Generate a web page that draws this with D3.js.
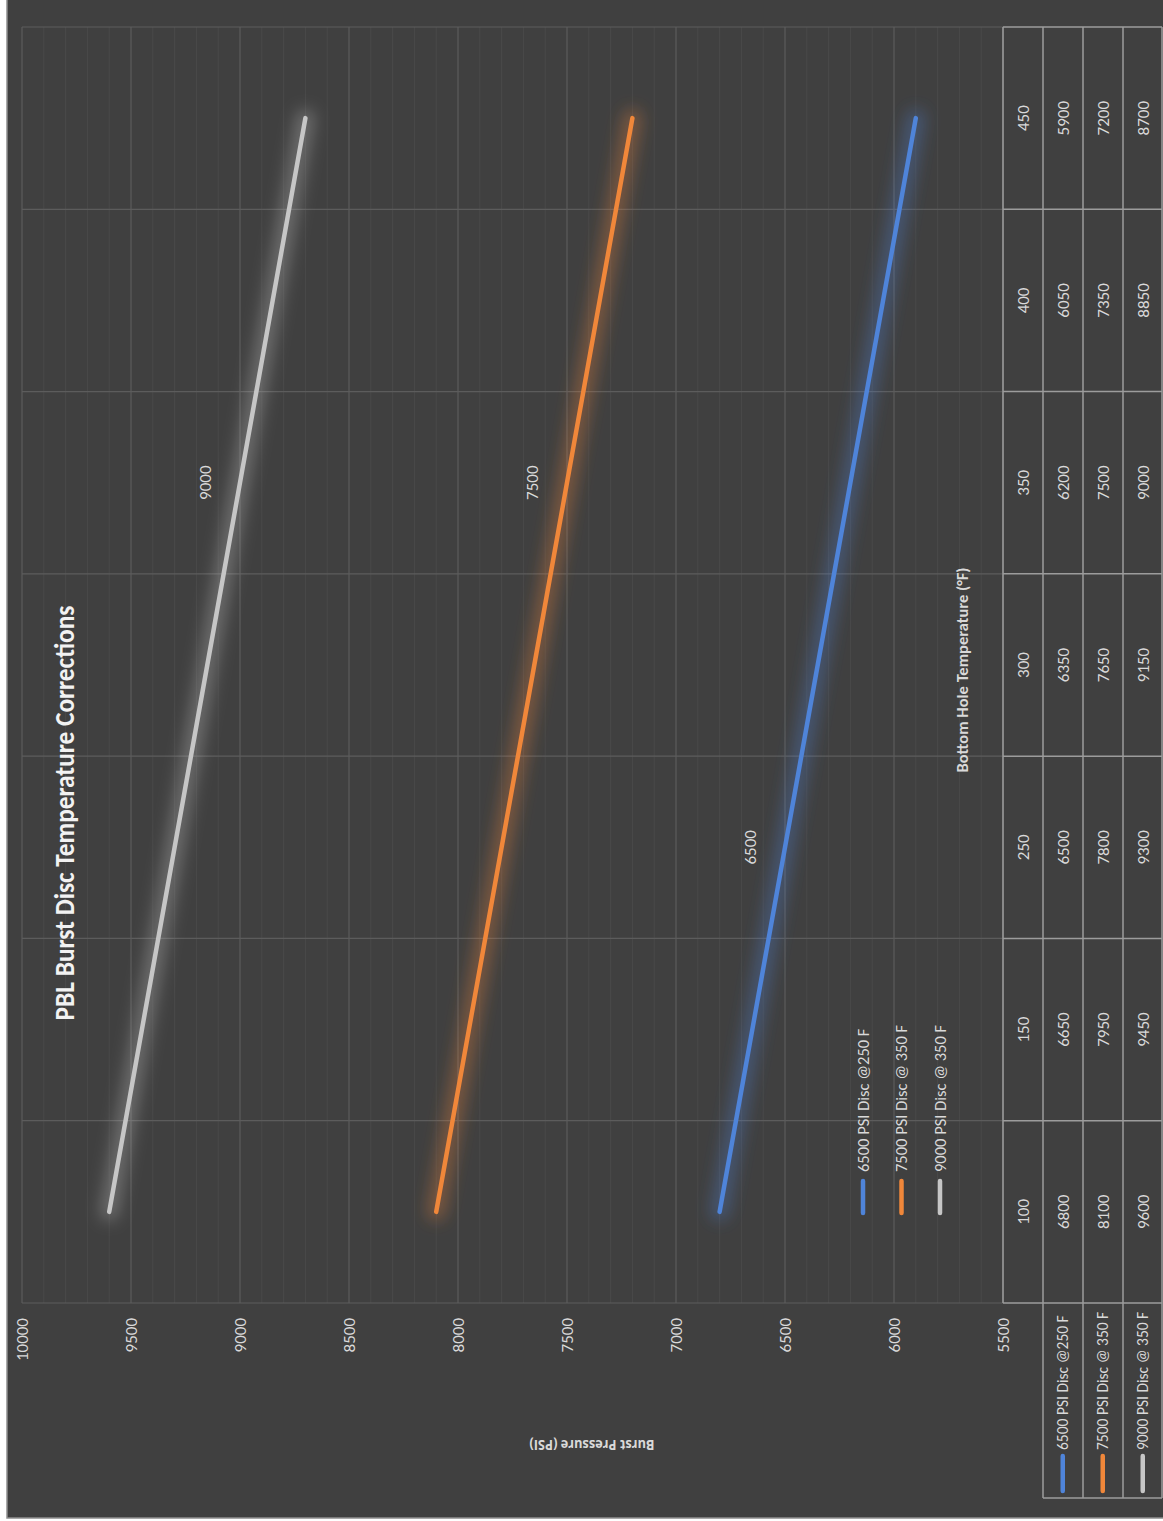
<!DOCTYPE html>
<html>
<head>
<meta charset="utf-8">
<script src="https://cdn.jsdelivr.net/npm/d3@7"></script>
<style>
  body { margin: 0; background: #ffffff; }
  svg { display: block; }
</style>
</head>
<body>
<div id="chart"></div>
<script>
/* global d3 */

// data
const temps = [100, 150, 250, 300, 350, 400, 450];
const seriesNames = ['6500 PSI Disc @250 F', '7500 PSI Disc @ 350 F', '9000 PSI Disc @ 350 F'];
const disc6500 = [6800, 6650, 6500, 6350, 6200, 6050, 5900];
const disc7500 = [8100, 7950, 7800, 7650, 7500, 7350, 7200];
const disc9000 = [9600, 9450, 9300, 9150, 9000, 8850, 8700];
const seriesColors = ['#4f84d9', '#f0873a', '#c6c6c6'];
const valueTicks = [5500, 6000, 6500, 7000, 7500, 8000, 8500, 9000, 9500, 10000];
const labelIndex = [2, 4, 4];
const labelText = ['6500', '7500', '9000'];

const allSeries = [disc6500, disc7500, disc9000];

const makeChart = () => {
  const width = 1163;
  const height = 1521;
  // the chart is drawn in its own (unrotated) frame, then turned a quarter
  const W0 = 1521;
  const font = "'Carlito', 'Liberation Sans Narrow', 'DejaVu Sans Condensed', sans-serif";
  const textColor = '#d9d9d9';

  const svg = d3.select('#chart')
    .append('svg')
    .attr('width', width)
    .attr('height', height);

  const defs = svg.append('defs');
  defs.append('filter')
    .attr('id', 'glow')
    .attr('x', '-20%')
    .attr('y', '-20%')
    .attr('width', '140%')
    .attr('height', '140%')
    .append('feGaussianBlur')
    .attr('stdDeviation', 8);

  const root = svg.append('g')
    .attr('transform', `translate(0 ${W0}) rotate(-90)`);

  // background + border
  root.append('rect')
    .attr('x', 3)
    .attr('y', 7)
    .attr('width', W0 - 3)
    .attr('height', 1163 - 7)
    .attr('fill', '#404040');
  root.append('path')
    .attr('d', `M3,1163 L3,7 L${W0},7`)
    .attr('fill', 'none')
    .attr('stroke', '#8e8e8e')
    .attr('stroke-width', 1.5);

  const plotLeft = 218;
  const plotRight = 1494;
  const plotTop = 22;
  const plotBottom = 1003;

  const x = d3.scaleBand()
    .domain(temps)
    .range([plotLeft, plotRight]);

  const y = d3.scaleLinear()
    .domain([5500, 10000])
    .range([plotBottom, plotTop]);

  // minor gridlines every 100
  const minor = d3.range(5500, 10001, 100).filter((v) => v % 500 !== 0);
  root.append('g')
    .selectAll('line')
    .data(minor)
    .enter()
    .append('line')
    .attr('x1', plotLeft)
    .attr('x2', plotRight)
    .attr('y1', (d) => y(d))
    .attr('y2', (d) => y(d))
    .attr('stroke', '#494949')
    .attr('stroke-width', 1);

  // major gridlines
  root.append('g')
    .selectAll('line')
    .data(valueTicks)
    .enter()
    .append('line')
    .attr('x1', plotLeft)
    .attr('x2', plotRight)
    .attr('y1', (d) => y(d))
    .attr('y2', (d) => y(d))
    .attr('stroke', '#5c5c5c')
    .attr('stroke-width', 1.2);

  const bounds = temps.map((t) => x(t)).concat([plotRight]);
  root.append('g')
    .selectAll('line')
    .data(bounds)
    .enter()
    .append('line')
    .attr('x1', (d) => d)
    .attr('x2', (d) => d)
    .attr('y1', plotTop)
    .attr('y2', plotBottom)
    .attr('stroke', '#5c5c5c')
    .attr('stroke-width', 1.2);

  // value axis labels
  root.append('g')
    .selectAll('text')
    .data(valueTicks)
    .enter()
    .append('text')
    .attr('x', 203)
    .attr('y', (d) => y(d))
    .attr('dy', '0.35em')
    .attr('text-anchor', 'end')
    .style('font-family', font)
    .style('font-size', '17px')
    .attr('fill', textColor)
    .text((d) => d);

  // lines
  const line = d3.line()
    .x((d, i) => x(temps[i]) + x.bandwidth() / 2)
    .y((d) => y(d));

  const lines = root.append('g');
  allSeries.forEach((s, k) => {
    lines.append('path')
      .attr('d', line(s))
      .attr('fill', 'none')
      .attr('stroke', seriesColors[k])
      .attr('stroke-width', 18)
      .attr('stroke-opacity', 0.35)
      .attr('stroke-linecap', 'round')
      .attr('filter', 'url(#glow)');
  });
  allSeries.forEach((s, k) => {
    lines.append('path')
      .attr('d', line(s))
      .attr('fill', 'none')
      .attr('stroke', seriesColors[k])
      .attr('stroke-width', 4.5)
      .attr('stroke-linecap', 'round');
  });

  // data labels
  root.append('g')
    .selectAll('text')
    .data(labelText)
    .enter()
    .append('text')
    .attr('x', (d, k) => x(temps[labelIndex[k]]) + x.bandwidth() / 2)
    .attr('y', (d, k) => y(allSeries[k][labelIndex[k]]) - 35)
    .attr('dy', '0.35em')
    .attr('text-anchor', 'middle')
    .style('font-family', font)
    .style('font-size', '17px')
    .attr('fill', textColor)
    .text((d) => d);

  // title
  root.append('text')
    .attr('x', 708)
    .attr('y', 74)
    .attr('text-anchor', 'middle')
    .attr('textLength', 415)
    .attr('lengthAdjust', 'spacingAndGlyphs')
    .style('font-family', font)
    .style('font-size', '29px')
    .style('font-weight', 'bold')
    .attr('fill', '#f2f2f2')
    .text('PBL Burst Disc Temperature Corrections');

  // axis titles
  root.append('text')
    .attr('transform', `translate(76 592) rotate(-90)`)
    .attr('text-anchor', 'middle')
    .attr('dy', '0.35em')
    .attr('textLength', 125)
    .attr('lengthAdjust', 'spacingAndGlyphs')
    .style('font-family', "'Open Sans', 'DejaVu Sans', sans-serif")
    .style('font-size', '14px')
    .style('font-weight', 'bold')
    .attr('fill', textColor)
    .text('Burst Pressure (PSI)');

  root.append('text')
    .attr('x', (plotLeft + plotRight) / 2 - 5)
    .attr('y', 962)
    .attr('dy', '0.35em')
    .attr('text-anchor', 'middle')
    .attr('textLength', 205)
    .attr('lengthAdjust', 'spacingAndGlyphs')
    .style('font-family', font)
    .style('font-size', '16px')
    .style('font-weight', 'bold')
    .attr('fill', textColor)
    .text('Bottom Hole Temperature (°F)');

  // legend inside the plot
  const legend = root.append('g');
  seriesNames.forEach((name, k) => {
    const ly = 863 + k * 38.5;
    legend.append('line')
      .attr('x1', 308)
      .attr('x2', 340)
      .attr('y1', ly)
      .attr('y2', ly)
      .attr('stroke', seriesColors[k])
      .attr('stroke-width', 4.5)
      .attr('stroke-linecap', 'round');
    legend.append('text')
      .attr('x', 349)
      .attr('y', ly)
      .attr('dy', '0.35em')
      .style('font-family', font)
      .style('font-size', '16.5px')
      .attr('fill', textColor)
      .text(name);
  });

  // data table
  const table = root.append('g');
  const rowTop = [1003, 1043, 1083, 1123];
  const rowH = 39.5;
  const tableStroke = '#9c9c9c';

  table.append('line')
    .attr('x1', plotLeft)
    .attr('x2', plotRight)
    .attr('y1', rowTop[0])
    .attr('y2', rowTop[0])
    .attr('stroke', tableStroke)
    .attr('stroke-width', 1.5);
  [1043, 1083, 1123, 1162].forEach((ry) => {
    table.append('line')
      .attr('x1', 23)
      .attr('x2', plotRight)
      .attr('y1', ry)
      .attr('y2', ry)
      .attr('stroke', tableStroke)
      .attr('stroke-width', 1.5);
  });
  table.selectAll('.col')
    .data(bounds)
    .enter()
    .append('line')
    .attr('x1', (d) => d)
    .attr('x2', (d) => d)
    .attr('y1', 1003)
    .attr('y2', 1162)
    .attr('stroke', tableStroke)
    .attr('stroke-width', 1.5);
  table.append('line')
    .attr('x1', 23)
    .attr('x2', 23)
    .attr('y1', 1043)
    .attr('y2', 1162)
    .attr('stroke', tableStroke)
    .attr('stroke-width', 1.5);

  // header row
  table.selectAll('.head')
    .data(temps)
    .enter()
    .append('text')
    .attr('x', (d) => x(d) + x.bandwidth() / 2)
    .attr('y', rowTop[0] + rowH / 2)
    .attr('dy', '0.35em')
    .attr('text-anchor', 'middle')
    .style('font-family', font)
    .style('font-size', '17px')
    .attr('fill', textColor)
    .text((d) => d);

  // series rows
  allSeries.forEach((s, k) => {
    const cy = rowTop[k + 1] + rowH / 2;
    table.append('line')
      .attr('x1', 30)
      .attr('x2', 65)
      .attr('y1', cy)
      .attr('y2', cy)
      .attr('stroke', seriesColors[k])
      .attr('stroke-width', 4.5)
      .attr('stroke-linecap', 'round');
    table.append('text')
      .attr('x', 71)
      .attr('y', cy)
      .attr('dy', '0.35em')
      .style('font-family', font)
      .style('font-size', '15.5px')
      .attr('fill', textColor)
      .text(seriesNames[k]);
    table.selectAll(`.cell${k}`)
      .data(s)
      .enter()
      .append('text')
      .attr('x', (d, i) => x(temps[i]) + x.bandwidth() / 2)
      .attr('y', cy)
      .attr('dy', '0.35em')
      .attr('text-anchor', 'middle')
      .style('font-family', font)
      .style('font-size', '17px')
      .attr('fill', textColor)
      .text((d) => d);
  });
};

makeChart();
</script>
</body>
</html>
